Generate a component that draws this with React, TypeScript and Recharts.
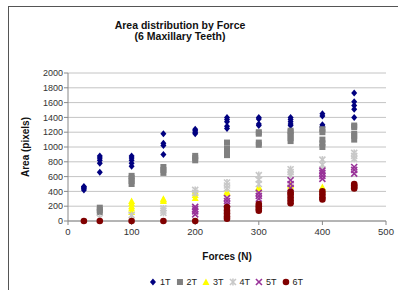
import React, { useLayoutEffect } from 'react';
import { ScatterChart, Scatter, XAxis, YAxis, CartesianGrid, ZAxis } from 'recharts';

const xTicks = [0, 100, 200, 300, 400, 500];
const yTicks = [0, 200, 400, 600, 800, 1000, 1200, 1400, 1600, 1800, 2000];
const seriesNames = ['1T', '2T', '3T', '4T', '5T', '6T'];
const seriesColors = ['#000080', '#808080', '#ffff00', '#c8c8c8', '#993399', '#800000'];

const tooth1: [number, number][] = [
  [25, 420], [25, 440], [25, 455], [25, 465],
  [50, 660], [50, 780], [50, 820], [50, 850], [50, 880],
  [100, 740], [100, 780], [100, 820], [100, 850], [100, 880],
  [150, 900], [150, 1020], [150, 1050], [150, 1180],
  [200, 1180], [200, 1200], [200, 1220], [200, 1240],
  [250, 1250], [250, 1280], [250, 1340], [250, 1370], [250, 1400],
  [300, 1290], [300, 1310], [300, 1380], [300, 1400],
  [350, 1290], [350, 1310], [350, 1340], [350, 1370], [350, 1400],
  [400, 1260], [400, 1280], [400, 1300], [400, 1420], [400, 1450],
  [450, 1400], [450, 1510], [450, 1560], [450, 1610], [450, 1730],
];
const tooth2: [number, number][] = [
  [50, 120], [50, 150], [50, 180],
  [100, 500], [100, 540], [100, 580], [100, 610],
  [150, 650], [150, 690], [150, 730],
  [200, 820], [200, 850], [200, 880],
  [250, 890], [250, 940], [250, 980], [250, 1060],
  [300, 1030], [300, 1060], [300, 1180], [300, 1200],
  [350, 1080], [350, 1120], [350, 1160], [350, 1200], [350, 1220],
  [400, 1000], [400, 1050], [400, 1100], [400, 1200], [400, 1240],
  [450, 1100], [450, 1150], [450, 1180], [450, 1270], [450, 1290],
];
const tooth3: [number, number][] = [
  [100, 120], [100, 170], [100, 200], [100, 240], [100, 270],
  [150, 270], [150, 290], [150, 300],
  [200, 310], [200, 350], [200, 400],
  [250, 380], [250, 400],
  [300, 440], [300, 460],
  [350, 470], [350, 490],
  [400, 430], [400, 460],
];
const tooth4: [number, number][] = [
  [50, 40], [100, 80],
  [150, 110], [150, 140], [150, 170],
  [200, 380], [200, 420],
  [250, 440], [250, 480], [250, 520],
  [300, 500], [300, 560], [300, 620],
  [350, 620], [350, 660], [350, 700],
  [400, 700], [400, 760], [400, 830],
  [450, 840], [450, 880], [450, 920],
];
const tooth5: [number, number][] = [
  [200, 90], [200, 130], [200, 160], [200, 190],
  [250, 230], [250, 270], [250, 310],
  [300, 300], [300, 340], [300, 380],
  [350, 450], [350, 500], [350, 550],
  [400, 570], [400, 610], [400, 650], [400, 680],
  [450, 640], [450, 690], [450, 730],
];
const tooth6: [number, number][] = [
  [25, 0], [50, 0], [100, 0], [150, 0], [200, 0],
  [250, 30], [250, 60], [250, 100], [250, 140], [250, 190],
  [300, 140], [300, 170], [300, 200], [300, 230],
  [350, 240], [350, 280], [350, 320], [350, 360], [350, 390],
  [400, 290], [400, 320], [400, 360], [400, 400],
  [450, 440], [450, 460], [450, 480], [450, 500],
];

const toData = (arr: [number, number][]) => arr.map(([x, y]) => ({ x, y }));
const allSeries = [tooth1, tooth2, tooth3, tooth4, tooth5, tooth6].map(toData);

type MarkProps = { cx?: number; cy?: number; color: string; kind: number };

const Mark = ({ cx = 0, cy = 0, color, kind }: MarkProps) => {
  switch (kind) {
    case 0:
      return <polygon points={`${cx},${cy - 3.5} ${cx + 3},${cy} ${cx},${cy + 3.5} ${cx - 3},${cy}`} fill={color} />;
    case 1:
      return <rect x={cx - 3} y={cy - 3} width={6} height={6} fill={color} />;
    case 2:
      return <polygon points={`${cx},${cy - 3.5} ${cx + 3.5},${cy + 3} ${cx - 3.5},${cy + 3}`} fill={color} />;
    case 3:
      return (
        <g stroke={color} strokeWidth={1.6}>
          <line x1={cx - 3} y1={cy - 3} x2={cx + 3} y2={cy + 3} />
          <line x1={cx - 3} y1={cy + 3} x2={cx + 3} y2={cy - 3} />
          <line x1={cx} y1={cy - 3.5} x2={cx} y2={cy + 3.5} />
        </g>
      );
    case 4:
      return (
        <g stroke={color} strokeWidth={1.6}>
          <line x1={cx - 3} y1={cy - 3} x2={cx + 3} y2={cy + 3} />
          <line x1={cx - 3} y1={cy + 3} x2={cx + 3} y2={cy - 3} />
        </g>
      );
    default:
      return <circle cx={cx} cy={cy} r={3.3} fill={color} />;
  }
};

const font = 'Arial, "Liberation Sans", sans-serif';

export default function App() {
  useLayoutEffect(() => {
    document.body.style.margin = '0';
    document.body.style.overflow = 'hidden';
    const r = document.getElementById('root');
    if (r) {
      r.style.width = '398px';
      r.style.height = '290px';
      r.style.overflow = 'hidden';
    }
  }, []);
  return (
    <div
      style={{
        position: 'relative',
        width: 398,
        height: 290,
        overflow: 'hidden',
        fontFamily: font,
        background: '#fff',
      }}
    >
      <div
        style={{
          position: 'absolute',
          left: 8,
          top: 6,
          width: 400,
          height: 300,
          borderLeft: '1px solid #555',
          borderTop: '1px solid #555',
        }}
      />
      <div style={{ position: 'absolute', left: 8, top: 6 }}>
        <ScatterChart width={390} height={284} margin={{ top: 67, right: 12, bottom: 39, left: 10 }}>
          <CartesianGrid horizontal vertical={false} stroke="#c4c4c4" />
          <XAxis
            type="number"
            dataKey="x"
            domain={[0, 500]}
            ticks={xTicks}
            interval={0}
            height={30}
            tickSize={4}
            tickMargin={3}
            stroke="#888"
            tick={{ fill: '#333', fontSize: 9.5, fontFamily: font }}
          />
          <YAxis
            type="number"
            dataKey="y"
            domain={[0, 2000]}
            ticks={yTicks}
            interval={0}
            width={50}
            tickSize={4}
            tickMargin={1}
            stroke="#888"
            tick={{ fill: '#333', fontSize: 9, fontFamily: font }}
          />
          <ZAxis range={[30, 30]} />
          {allSeries.map((data, i) => (
            <Scatter
              key={seriesNames[i]}
              name={seriesNames[i]}
              data={data}
              isAnimationActive={false}
              shape={(p: any) => <Mark cx={p.cx} cy={p.cy} color={seriesColors[i]} kind={i} />}
            />
          ))}
        </ScatterChart>
        <div
          style={{
            position: 'absolute',
            left: 0,
            width: 390,
            top: 14,
            textAlign: 'center',
            fontWeight: 'bold',
            fontSize: 10.5,
            lineHeight: '10.5px',
            color: '#111',
            paddingRight: 46,
            boxSizing: 'border-box',
          }}
        >
          <div>Area distribution by Force</div>
          <div>(6 Maxillary Teeth)</div>
        </div>
        <div
          style={{
            position: 'absolute',
            left: 17,
            top: 141,
            transform: 'translate(-50%, -50%) rotate(-90deg)',
            whiteSpace: 'nowrap',
            fontWeight: 'bold',
            fontSize: 10,
            color: '#111',
          }}
        >
          Area (pixels)
        </div>
        <div
          style={{
            position: 'absolute',
            left: 219,
            top: 250,
            transform: 'translate(-50%, -50%)',
            whiteSpace: 'nowrap',
            fontWeight: 'bold',
            fontSize: 10,
            color: '#111',
          }}
        >
          Forces (N)
        </div>
        <div
          style={{
            position: 'absolute',
            left: 218,
            top: 276,
            transform: 'translate(-50%, -50%)',
            whiteSpace: 'nowrap',
            fontSize: 9,
            lineHeight: '10px',
            color: '#222',
            display: 'flex',
            alignItems: 'center',
          }}
        >
          {seriesNames.map((n, i) => (
            <span key={n} style={{ display: 'inline-flex', alignItems: 'center', marginLeft: i === 0 ? 0 : 5 }}>
              <svg width={8} height={8} style={{ marginRight: 3 }}>
                <Mark cx={4} cy={4} color={seriesColors[i]} kind={i} />
              </svg>
              {n}
            </span>
          ))}
        </div>
      </div>
    </div>
  );
}
